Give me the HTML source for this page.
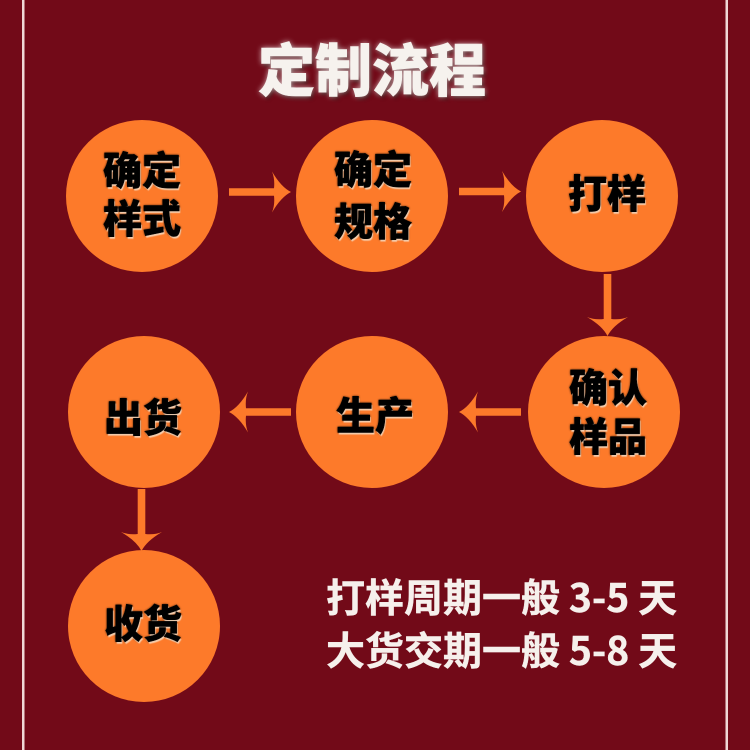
<!DOCTYPE html>
<html><head><meta charset="utf-8"><style>
html,body{margin:0;padding:0;background:#720a18}
#p{position:relative;width:750px;height:750px;overflow:hidden;background:#720a18;font-family:"Liberation Sans","Noto Sans CJK SC",sans-serif}
svg{position:absolute;left:0;top:0}
.t{position:absolute;font-family:"Noto Sans CJK SC",sans-serif;font-weight:900;white-space:nowrap}
.c{color:#000;font-size:39px;width:152px;text-align:center;-webkit-text-stroke:.5px #000;text-shadow:1px 2px 1px rgba(255,240,220,.75),0 0 2px #000}
.b{color:#f6f0ec;font-size:39px;line-height:50px;font-weight:700;-webkit-text-stroke:.4px #f6f0ec}
</style></head><body><div id="p">
<svg width="750" height="750" viewBox="0 0 750 750">
<defs><path id="a" d="M-62 -3.800H-17Q-16 -13 -19 -20.500Q-10 -5 0 0Q-10 5 -19 20.500Q-16 13 -17 3.800H-62Z" fill="#fd7a2a"/></defs>
<rect x="22" y="0" width="2.500" height="750" fill="#f0d8d6"/>
<rect x="725.500" y="0" width="2.500" height="750" fill="#f0d8d6"/>
<g fill="#fd7a2a">
<circle cx="142" cy="196" r="76"/><circle cx="372" cy="196" r="76"/><circle cx="602" cy="196" r="76"/>
<circle cx="604" cy="412" r="76"/><circle cx="372" cy="412" r="76"/><circle cx="144" cy="412" r="76"/>
<circle cx="144" cy="626" r="76"/>
</g>
<use href="#a" transform="translate(291 192)"/>
<use href="#a" transform="translate(521 191.500)"/>
<use href="#a" transform="translate(607.500 336) rotate(90)"/>
<use href="#a" transform="translate(459 412) rotate(180)"/>
<use href="#a" transform="translate(229 412) rotate(180)"/>
<use href="#a" transform="translate(141.500 551) rotate(90)"/>
</svg>
<div class="t" style="left:258px;top:26px;font-size:57px;line-height:82px;color:#f6f2ee;-webkit-text-stroke:.6px #f6f2ee;text-shadow:0 0 6px rgba(255,255,255,.75),2px 3px 3px rgba(40,0,0,.7)">定制流程</div>
<div class="t c" style="left:66px;top:145px;line-height:48px">确定<br>样式</div>
<div class="t c" style="left:297px;top:142px;line-height:52px">确定<br>规格</div>
<div class="t c" style="left:531px;top:166px;line-height:52px">打样</div>
<div class="t c" style="left:532px;top:362px;line-height:49px">确认<br>样品</div>
<div class="t c" style="left:299px;top:388px;line-height:52px">生产</div>
<div class="t c" style="left:67px;top:390px;line-height:52px">出货</div>
<div class="t c" style="left:67px;top:596px;line-height:52px">收货</div>
<div class="t b" style="left:326px;top:571px">打样周期一般 3-5 天</div>
<div class="t b" style="left:326px;top:624px">大货交期一般 5-8 天</div>
</div></body></html>
